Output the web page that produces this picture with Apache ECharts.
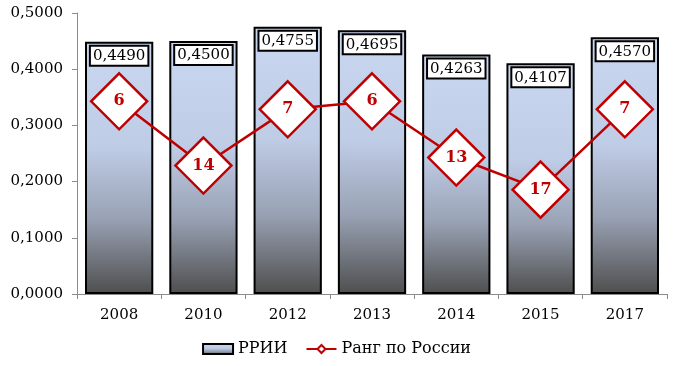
<!DOCTYPE html>
<html>
<head>
<meta charset="utf-8">
<script src="https://cdn.jsdelivr.net/npm/echarts@6/dist/echarts.min.js"></script>
<style>
  html, body { margin: 0; padding: 0; background: #fff; }
  #chart { width: 673px; height: 366px; }
</style>
</head>
<body>
<div id="chart"></div>
<script>
const years = ["2008", "2010", "2012", "2013", "2014", "2015", "2017"];
const rrii = [0.4490, 0.4500, 0.4755, 0.4695, 0.4263, 0.4107, 0.4570];
const rank = [6, 14, 7, 6, 13, 17, 7];

const serif = "DejaVu Serif";
const fmt = (v) => v.toFixed(4).replace(".", ",");

const chart = echarts.init(document.getElementById("chart"));

const barFill = new echarts.graphic.LinearGradient(0, 0, 0, 1, [
  { offset: 0, color: "#c9d7f1" },
  { offset: 0.42, color: "#bfcce6" },
  { offset: 0.7, color: "#99a2b4" },
  { offset: 1, color: "#4e4e4e" },
]);

const option = {
  animation: false,
  grid: { left: 77, right: 6, top: 13, bottom: 72 },
  legend: {
    bottom: 4,
    left: "center",
    itemGap: 18,
    itemWidth: 30,
    itemHeight: 10,
    textStyle: { fontFamily: serif, fontSize: 16, color: "#000" },
    data: [
      { name: "РРИИ", icon: "rect" },
      { name: "Ранг по России" },
    ],
  },
  xAxis: {
    type: "category",
    data: years,
    axisLine: { lineStyle: { color: "#8c8c8c", width: 1 } },
    axisTick: { show: true, length: 5, lineStyle: { color: "#8c8c8c" } },
    axisLabel: { fontFamily: serif, fontSize: 15, color: "#000", margin: 14 },
  },
  yAxis: [
    {
      type: "value",
      min: 0,
      max: 0.5,
      interval: 0.1,
      splitLine: { show: false },
      axisLine: { show: true, lineStyle: { color: "#8c8c8c" } },
      axisTick: { show: true, length: 5, lineStyle: { color: "#8c8c8c" } },
      axisLabel: {
        fontFamily: serif,
        fontSize: 15,
        color: "#000",
        margin: 14,
        formatter: (v) => fmt(v),
      },
    },
    {
      type: "value",
      inverse: true,
      min: -5,
      max: 30,
      show: false,
    },
  ],
  series: [
    {
      name: "РРИИ",
      type: "bar",
      data: rrii,
      barCategoryGap: "19%",
      itemStyle: { color: barFill, borderColor: "#000", borderWidth: 2 },
      label: {
        show: true,
        position: "insideTop",
        distance: 5,
        formatter: (p) => fmt(p.value),
        fontFamily: serif,
        fontSize: 15,
        color: "#000",
        backgroundColor: "#fff",
        borderColor: "#000",
        borderWidth: 2,
        padding: [2, 2, 1, 2],
      },
      z: 2,
    },
    {
      name: "Ранг по России",
      type: "line",
      yAxisIndex: 1,
      data: rank,
      symbol: "diamond",
      symbolSize: 56,
      lineStyle: { color: "#c00000", width: 2.5 },
      itemStyle: { color: "#fff", borderColor: "#c00000", borderWidth: 2.5 },
      label: {
        show: true,
        position: "inside",
        fontFamily: serif,
        fontSize: 16,
        fontWeight: "bold",
        color: "#c00000",
      },
      z: 5,
    },
  ],
};

chart.setOption(option);
</script>
</body>
</html>
